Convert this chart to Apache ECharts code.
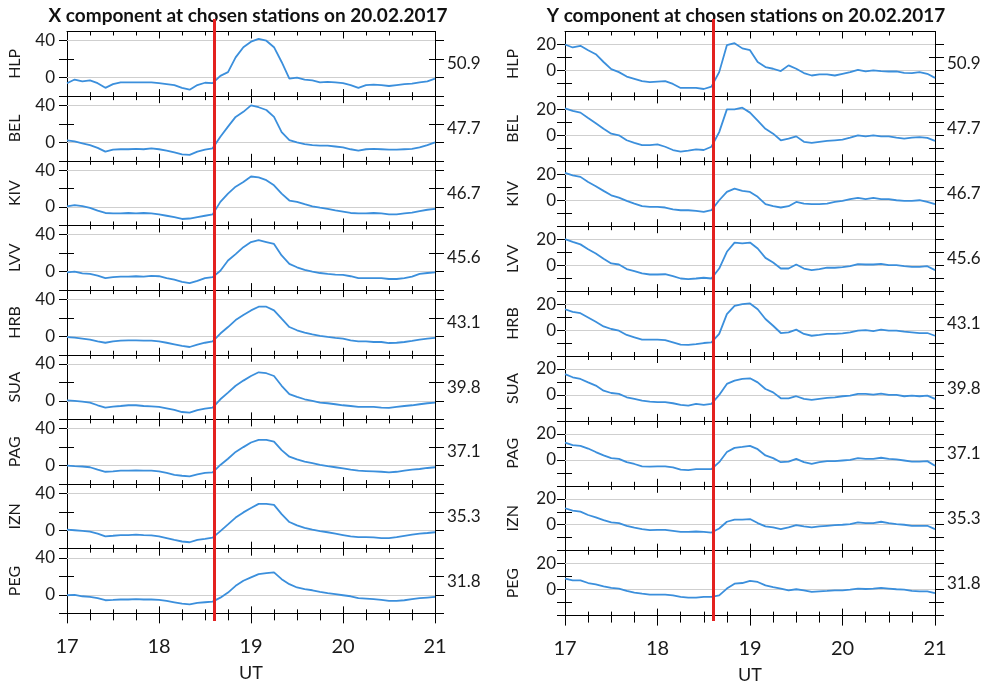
<!DOCTYPE html>
<html><head><meta charset="utf-8">
<script src="https://cdn.jsdelivr.net/npm/echarts@6/dist/echarts.min.js"></script>
<style>html,body{margin:0;padding:0;background:#fff}#c{width:993px;height:683px}</style>
</head><body><div id="c"></div>
<script>
// ---------------- data ----------------
const stations = ['HLP','BEL','KIV','LVV','HRB','SUA','PAG','IZN','PEG'];
const latitudes = ['50.9','47.7','46.7','45.6','43.1','39.8','37.1','35.3','31.8'];
const titles = ['X component at chosen stations on 20.02.2017','Y component at chosen stations on 20.02.2017'];
const utRange = [17, 21];
const onsetUT = 18.6;
const xCompRange = [-20, 50];
const xCompTicks = [-20, 0, 20, 40];
const xCompLabels = [0, 40];
const yCompRange = [-20, 30];
const yCompTicks = [-20, -10, 0, 10, 20];
const yCompLabels = [0, 20];
const times = [17,17.083,17.167,17.25,17.333,17.417,17.5,17.583,17.667,17.75,17.833,17.917,
  18,18.083,18.167,18.25,18.333,18.417,18.5,18.583,18.667,18.75,18.833,18.917,
  19,19.083,19.167,19.25,19.333,19.417,19.5,19.583,19.667,19.75,19.833,19.917,
  20,20.083,20.167,20.25,20.333,20.417,20.5,20.583,20.667,20.75,20.833,20.917,21];

const X_HLP = [-6,-2,-4,-3,-6,-11,-7,-5,-5,-5,-5,-5,-6,-7,-8,-11,-13,-8,-5.5,-6,2,6,22,33,39,42,40,33,17,-1,0,-2,-3,-5,-4.5,-5,-6,-8,-11,-8,-7.5,-8,-9,-8,-7,-6.5,-5,-4,-1];
const X_BEL = [2,1,-1,-3,-6,-10,-8,-7.5,-7.5,-7,-7.5,-6.5,-7.5,-9,-11,-13,-13.5,-10,-8,-6.5,6,17,27.5,33,40,38,35,27.5,11,2.5,0,-2,-3,-3.5,-3.5,-4.5,-5.5,-7.5,-9,-7.5,-7,-7.5,-8,-8,-7.5,-7,-5.5,-3,0];
const X_KIV = [0.7,2,1,-1,-4,-6.5,-7,-7,-6.5,-7,-6.5,-7,-8,-9.5,-11,-13,-12.5,-11,-9.5,-8,5.5,14.5,22,27,33,32,29,23.5,14.5,7,5.5,3,0.7,-0.7,-2,-3.6,-5,-6.5,-7,-7,-6.5,-7,-8,-8,-7,-6,-4.5,-3,-2];
const X_LVV = [-0.7,0,-2,-2.5,-4.4,-7,-6,-5.5,-5.5,-5,-5.5,-4.7,-5,-7,-8.7,-11,-12.4,-10,-7,-6,1,12,19,26.5,32,34,32,30,17.5,8.4,4.7,1.8,0,-1.5,-2.5,-3.3,-3.6,-5,-7,-7,-7,-7,-8,-8,-7,-5.5,-2.5,-1.5,-0.7];
const X_HRB = [-1,-1.5,-2.5,-3.6,-5.5,-7,-5.5,-4.7,-4.4,-4.4,-4.7,-4.7,-5.5,-7,-8.7,-10.5,-11.6,-9,-7,-5.5,3,10,17.5,23,28,32,32,28,19,10,6.5,4,2,0.4,-0.7,-1.8,-2.5,-4.4,-5.5,-5.5,-6.2,-6.2,-7.3,-7,-6.2,-5,-3.6,-2.5,-1.8];
const X_SUA = [0.7,0,-0.7,-1.8,-4.7,-7.3,-6.2,-5.5,-4.7,-4.7,-5.5,-5.8,-6.5,-8,-9.8,-12,-12.7,-10,-8.4,-7.3,1.8,9,16.4,22,27,31,30,27,16.4,7.3,4.4,1.8,0,-1.8,-2.5,-3.6,-4.7,-5.5,-6.5,-6.5,-6.5,-7.3,-7.6,-6.5,-5.5,-4.7,-3.6,-2.5,-1.8];
const X_PAG = [0,-0.7,-1,-1.8,-4.4,-6.7,-6.3,-5.5,-5.5,-5.2,-5.5,-5.5,-6.3,-8,-10,-11,-11.8,-9.6,-8,-7.4,0.7,7.4,14.8,20,25,27.8,27.8,26,16.7,9.6,6.7,4.4,2.6,0.7,-0.7,-1.8,-3,-4.4,-5.5,-5.9,-6.3,-6.7,-7.4,-6.7,-5.5,-4.4,-3.7,-2.6,-1.8];
const X_IZN = [0.7,0,-0.7,-1.5,-3.7,-6.7,-6,-5.2,-5.2,-4.8,-5.2,-5.5,-6.7,-8.5,-10.4,-12.2,-13,-10.4,-9.3,-8,-1,6.3,13.7,19.3,24,28.5,28.5,27.4,17.4,8.9,5.2,2.6,0.7,-1,-2.2,-3.7,-5.2,-6.7,-7.4,-7.4,-7.8,-8.5,-8.5,-7.4,-6,-4.8,-3.7,-3,-2.2];
const X_PEG = [-0.4,0,-1.5,-2.2,-3.6,-5.8,-5.5,-5,-5,-4.7,-5,-5,-5.5,-6.5,-8,-9.5,-10.2,-8.7,-8,-7.3,-3,2.5,9.8,15.3,19,22.5,23.6,24.4,17,11.6,8,6.2,5,3.3,1.8,0.7,-0.4,-1.5,-3.6,-4,-4.7,-5.5,-6.5,-6.5,-5.8,-4.7,-3.6,-2.9,-2.2];

const Y_HLP = [20,17.7,19,15.6,12.5,6.5,1,-1.3,-4.7,-6.5,-8.3,-9,-8.6,-8.3,-10.4,-13.5,-13.5,-13.5,-14.3,-12.5,-1.3,19.5,21,17,15.6,6.5,2.6,1.3,-0.5,3.9,1.3,-2,-3.9,-3.1,-3.1,-3.9,-2.6,-1.3,0.5,-0.8,0,-0.5,-0.8,-0.8,-1.8,-2,-1.3,-2.6,-5.7];
const Y_BEL = [20.8,18.8,17.5,13.3,9.3,5,1.3,0,-3.8,-5.8,-7.5,-7.5,-7,-8.8,-11.3,-12.5,-11.8,-10.8,-11.3,-8.8,2.5,20,20,21.3,17.5,11.3,5,1.3,-3.8,-2.5,-0.8,-5,-5.8,-5,-4.3,-3.8,-3.3,-1.8,0,-0.8,0,-0.8,-0.8,-1.8,-2.5,-1.8,-1.3,-2,-4.3];
const Y_KIV = [21,19.2,18,14,10.8,7.2,3.8,2,-0.5,-2.6,-4.6,-5.1,-5.1,-5.6,-7,-7.7,-7.7,-8.2,-9,-7.7,0,6.4,9,7.2,6.4,2.6,-3,-4.6,-5.6,-4.6,-1.3,-2.6,-3,-3,-2.6,-1.3,-0.5,0.8,1.8,0.8,1.8,0.8,0.8,0,-0.5,-0.5,0,-1.3,-3];
const Y_LVV = [20,18,16,12.3,9,5,1.3,0.5,-3,-4.6,-6.4,-7.2,-7.2,-7,-8.5,-10.3,-10.8,-10.3,-9.7,-10.3,-2.6,10.3,17.4,16.7,17.4,12.8,5.6,2,-2.6,-2.6,0.5,-2.6,-3.8,-3,-2,-2,-1.5,-0.8,0.8,0.5,0.5,1,0,0,-0.8,-1.3,-1.3,-0.8,-3.8];
const Y_HRB = [16,14,13,9.7,6.4,2.8,0.8,-0.5,-3.8,-5.6,-7.4,-7.4,-7.4,-7.7,-9.5,-11.3,-11.5,-10.8,-10,-9.5,-3,12.3,18.7,20,20.5,16,8.5,3.3,-2.3,-1.8,0.3,-3,-4.4,-3.8,-3,-3,-2.6,-1.8,-0.5,0,-0.8,0.3,-0.5,-0.5,-1.3,-1.8,-2.3,-2.3,-4.4];
const Y_SUA = [16,13.6,12.3,9.7,7.2,3.3,1.5,0.8,-1.8,-3,-4.4,-5.1,-5.6,-5.6,-6.4,-7.7,-8.2,-6.9,-7.7,-6.9,0,8.5,11,12.3,12.8,9.7,4.6,2,-2.6,-2.6,-1,-3,-3.8,-3,-2.3,-1.8,-1,-0.5,0.8,0.8,0.3,1,0,0,-1,-0.5,-1,-0.5,-3];
const Y_PAG = [13.2,11.3,10.8,8.7,6,3.4,1.3,0.8,-1.8,-3.2,-5,-5.3,-5,-5,-5.8,-7.6,-7.9,-7.1,-7.1,-7.1,-1.8,6,9.2,10,10.8,8.2,3.4,1.3,-1.8,-1.3,0.8,-1.8,-3.2,-1.8,-1,-1,-0.5,0,1.3,0.8,0.8,1.6,0.8,0.3,-0.5,-1.3,-1.3,-1,-4.5];
const Y_IZN = [12.7,10.9,10.1,7.5,5.7,3.6,1.8,1.3,-0.8,-2.3,-3.4,-4.2,-3.9,-3.9,-4.7,-5.5,-5.5,-5.2,-5.5,-6,-2.9,2.3,3.9,3.9,4.4,1.3,-1.3,-2.1,-3.4,-2.1,-0.3,-1.3,-2.1,-1.3,-0.8,-0.3,0,0.5,1.8,1.3,1.3,2.3,1.3,0.5,0,-0.8,-0.8,-0.8,-3.4];
const Y_PEG = [8.5,7.2,7.2,5.1,4.1,2.6,1.3,0.8,-1,-2.3,-3.1,-3.8,-3.8,-3.8,-4.4,-5.6,-6.2,-6.2,-5.6,-5.6,-4.4,0.8,4.6,5.1,6.7,5.9,3.3,2,0.8,-0.5,0.3,-0.5,-1.8,-1.3,-1,-0.5,-0.5,0,0.8,0.5,0.8,1.3,0.8,0.3,0,-1,-1.3,-1.3,-2.6];

// ---------------- layout ----------------
const FONT = 'Lato';
const TXT = '#1a1a1a';
const LINE_BLUE = '#3b8fdc';
const panels = [
  { title: titles[0], titleX: 243, left: 67, width: 368, top: 31.5, h: 64.65,
    range: xCompRange, ticks: xCompTicks, labels: xCompLabels, lblMargin: 12,
    series: [X_HLP, X_BEL, X_KIV, X_LVV, X_HRB, X_SUA, X_PAG, X_IZN, X_PEG] },
  { title: titles[1], titleX: 741, left: 565, width: 370, top: 31.5, h: 64.9,
    range: yCompRange, ticks: yCompTicks, labels: yCompLabels, lblMargin: 9,
    series: [Y_HLP, Y_BEL, Y_KIV, Y_LVV, Y_HRB, Y_SUA, Y_PAG, Y_IZN, Y_PEG] }
];

const option = { animation: false, backgroundColor: '#fff', title: [], grid: [], xAxis: [], yAxis: [], series: [] };

function xAxisDef(g, pos, inside, withLabels) {
  return {
    gridIndex: g, type: 'value', position: pos, min: utRange[0], max: utRange[1], interval: 1,
    axisLine: { show: true, onZero: false, lineStyle: { color: '#000', width: 1 } },
    axisTick: { show: true, inside: inside, length: inside ? 7 : 10, lineStyle: { color: '#000', width: 1 } },
    minorTick: { show: true, splitNumber: 4, length: inside ? 4 : 7, lineStyle: { color: '#000', width: 1 } },
    axisLabel: { show: withLabels, margin: 23, fontSize: 20, fontFamily: FONT, color: TXT },
    splitLine: { show: false }, minorSplitLine: { show: false },
    name: withLabels ? 'UT' : '', nameLocation: 'middle', nameGap: 51,
    nameTextStyle: { fontSize: 18, fontFamily: FONT, color: TXT }
  };
}
function yAxisDef(g, p, side, inside, len, opts) {
  return Object.assign({
    gridIndex: g, type: 'value', position: side, min: p.range[0], max: p.range[1],
    axisLine: { show: true, onZero: false, lineStyle: { color: '#000', width: 1 } },
    axisTick: { show: true, inside: inside, length: len, customValues: p.ticks, lineStyle: { color: '#000', width: 1 } },
    axisLabel: { show: false, customValues: p.labels },
    splitLine: { show: false }
  }, opts || {});
}

panels.forEach((p) => {
  option.title.push({ text: p.title, left: p.titleX, top: 1, textAlign: 'center',
    textStyle: { fontFamily: FONT, fontWeight: 'bold', fontSize: 19, color: '#111' } });
  stations.forEach((st, i) => {
    const g = option.grid.length;
    const last = i === stations.length - 1;
    option.grid.push({ left: p.left, top: p.top + i * p.h, width: p.width, height: p.h, containLabel: false, outerBoundsMode: 'none' });
    const xi = option.xAxis.length;
    option.xAxis.push(xAxisDef(g, 'bottom', true, last));
    option.xAxis.push(xAxisDef(g, 'top', true, false));
    if (last) option.xAxis.push(xAxisDef(g, 'bottom', false, false));
    const yi = option.yAxis.length;
    option.yAxis.push(yAxisDef(g, p, 'left', false, 8, {
      axisLabel: { show: true, customValues: p.labels, margin: p.lblMargin, fontSize: 17, fontFamily: FONT, color: TXT },
      name: st, nameLocation: 'middle', nameRotate: 90, nameGap: 44,
      nameTextStyle: { fontSize: 16, fontFamily: FONT, color: TXT }
    }));
    option.yAxis.push(yAxisDef(g, p, 'left', true, 7));
    option.yAxis.push(yAxisDef(g, p, 'right', false, 9, {
      name: latitudes[i], nameLocation: 'middle', nameRotate: 0, nameGap: 12,
      nameTextStyle: { fontSize: 17, fontFamily: FONT, color: TXT, align: 'left', verticalAlign: 'middle' }
    }));
    option.yAxis.push(yAxisDef(g, p, 'right', true, 6));
    option.series.push({
      type: 'line', xAxisIndex: xi, yAxisIndex: yi, z: 3,
      data: times.map((t, k) => [t, p.series[i][k]]),
      showSymbol: false, symbol: 'none', silent: true,
      lineStyle: { color: LINE_BLUE, width: 1.8 },
      markLine: { z: 1, silent: true, symbol: ['none', 'none'], label: { show: false },
        lineStyle: { color: '#cfcfcf', width: 1, type: 'solid' },
        data: p.labels.map(v => ({ yAxis: v })) }
    });
  });
  // overlay for the onset line
  const g = option.grid.length;
  option.grid.push({ left: p.left, top: 19, width: p.width, height: 602, containLabel: false, outerBoundsMode: 'none' });
  const xi = option.xAxis.length;
  option.xAxis.push({ gridIndex: g, type: 'value', min: utRange[0], max: utRange[1], show: false });
  const yi = option.yAxis.length;
  option.yAxis.push({ gridIndex: g, type: 'value', min: 0, max: 1, show: false });
  option.series.push({
    type: 'line', xAxisIndex: xi, yAxisIndex: yi, data: [], silent: true,
    markLine: { z: 10, silent: true, symbol: ['none', 'none'], label: { show: false },
      lineStyle: { color: '#e3211f', width: 3, type: 'solid' },
      data: [{ xAxis: onsetUT }] }
  });
});

const chart = echarts.init(document.getElementById('c'), null, { renderer: 'canvas' });
chart.setOption(option);
</script>
</body></html>
